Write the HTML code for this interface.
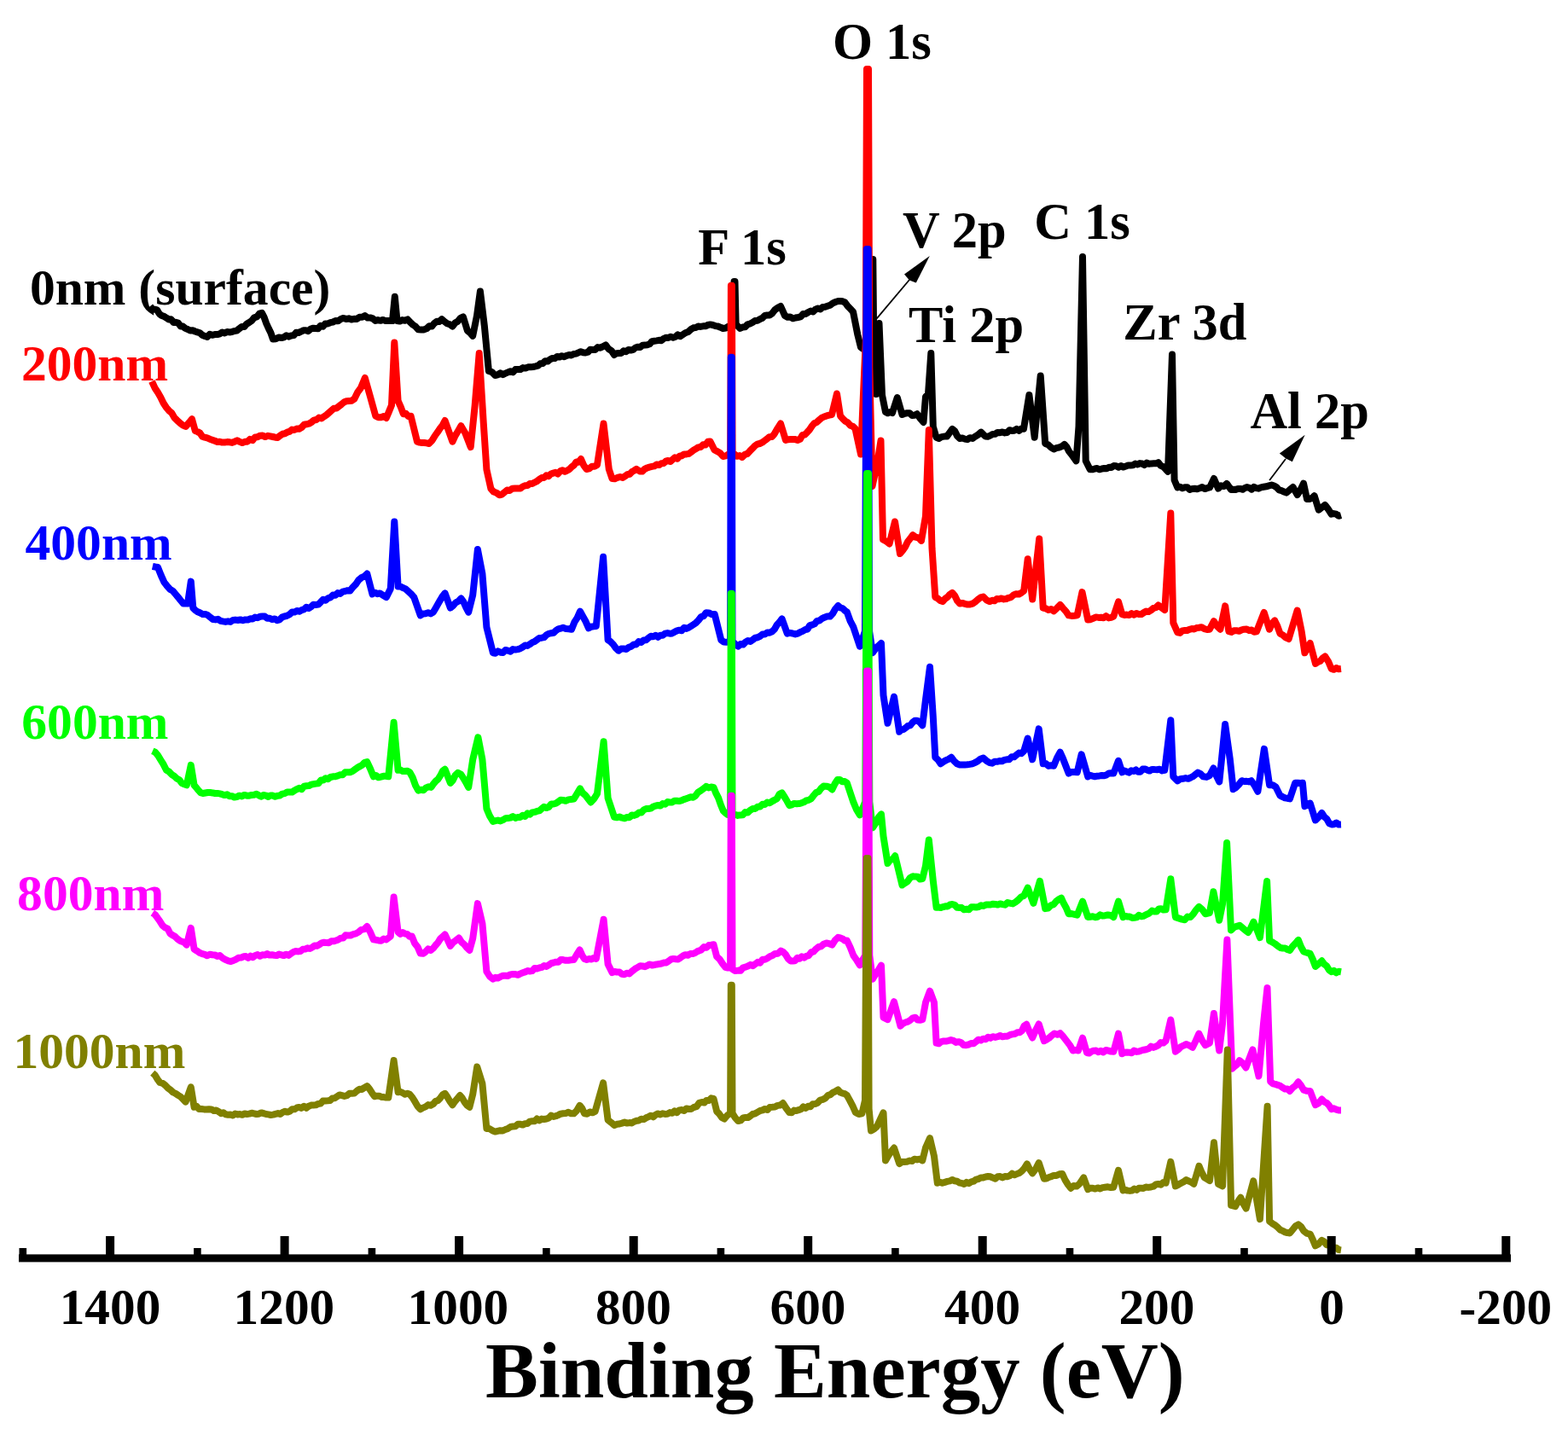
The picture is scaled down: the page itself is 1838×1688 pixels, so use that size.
<!DOCTYPE html>
<html><head><meta charset="utf-8"><title>XPS survey spectra</title>
<style>html,body{margin:0;padding:0;background:#fff;}svg{display:block;}</style>
</head><body>
<svg width="1838" height="1688" viewBox="0 0 1838 1688">
<rect width="1838" height="1688" fill="#ffffff"/>
<polyline fill="none" stroke="#000000" stroke-width="8.0" stroke-linejoin="round" stroke-linecap="butt" points="176.0,359.0 178.7,362.3 181.4,362.7 184.1,363.4 186.9,368.0 189.6,370.0 192.3,370.9 195.0,372.6 197.8,374.6 200.6,374.3 203.3,377.9 206.1,377.8 208.9,378.6 211.7,382.4 214.4,382.6 217.2,384.9 220.0,386.0 222.9,387.5 225.7,387.2 228.6,388.5 231.4,389.4 234.3,390.3 237.1,392.8 240.0,394.0 242.9,394.9 245.9,391.8 248.8,392.8 251.7,392.1 254.7,392.1 257.6,391.3 260.5,389.5 263.3,390.5 266.2,389.0 269.0,389.4 271.9,389.1 274.7,388.1 277.6,387.6 280.5,385.2 283.4,383.0 286.3,383.1 289.2,379.7 292.1,378.0 295.0,376.0 298.0,372.3 301.0,371.4 304.0,367.7 307.0,366.9 309.6,371.9 312.2,379.1 314.8,384.9 317.4,390.1 320.0,397.6 323.3,397.3 326.7,395.5 330.0,396.0 332.9,395.3 335.7,393.2 338.6,394.7 341.4,393.4 344.3,393.1 347.1,389.8 350.0,390.0 352.9,388.7 355.7,387.2 358.6,387.2 361.4,388.1 364.3,385.5 367.1,384.7 370.0,385.0 372.9,385.3 375.7,381.8 378.6,382.8 381.4,379.4 384.3,379.4 387.1,378.2 390.0,377.6 393.2,376.0 396.4,376.2 399.5,374.0 402.7,372.9 405.8,374.0 408.9,373.3 411.9,374.5 415.0,373.8 418.2,374.0 421.4,371.7 424.6,371.8 427.8,370.1 430.9,372.5 433.9,372.4 436.9,373.4 440.0,376.0 443.0,375.1 446.0,375.8 449.0,374.9 452.0,376.1 455.0,376.0 460.0,376.0 462.8,347.8 465.5,376.0 468.6,376.6 471.6,375.1 474.7,375.7 477.8,374.4 480.9,377.8 484.1,380.7 487.2,382.8 490.3,386.3 493.7,386.5 497.0,386.4 500.4,385.0 503.3,382.2 506.2,382.6 509.1,378.9 512.1,376.7 515.0,377.0 517.9,374.1 521.0,376.9 524.1,379.2 527.3,380.3 530.4,382.6 533.5,378.5 536.6,376.7 539.8,372.8 542.9,371.4 547.9,387.6 551.0,390.1 554.2,393.8 559.0,370.0 562.9,341.5 567.9,382.6 572.9,435.0 576.6,436.1 580.4,440.0 583.4,439.3 586.4,437.3 589.5,439.1 592.5,437.7 595.5,436.4 598.4,435.2 601.3,436.4 604.2,433.1 607.1,433.0 610.0,433.0 613.0,431.1 616.0,431.6 619.0,430.3 622.0,430.3 625.0,430.0 627.8,429.4 630.6,428.7 633.4,426.3 636.2,426.0 639.1,423.3 641.9,423.6 644.7,421.3 647.5,420.0 650.3,420.1 653.1,417.9 655.8,418.6 658.6,417.2 661.4,418.2 664.2,416.8 666.9,416.1 669.7,416.4 672.5,415.0 675.3,414.6 678.1,413.4 680.8,412.2 683.6,413.2 686.4,413.5 689.2,412.7 691.9,409.8 694.7,410.0 697.5,410.0 700.6,407.1 703.8,407.7 706.9,406.2 710.0,404.4 713.3,409.0 716.7,411.1 720.0,416.0 722.8,414.2 725.6,413.9 728.3,413.9 731.1,411.3 733.9,412.2 736.7,410.0 739.4,410.5 742.2,409.8 745.0,407.5 747.8,406.7 750.5,407.0 753.2,404.7 756.0,404.6 758.8,404.2 761.5,403.3 764.2,400.2 767.0,399.8 769.8,399.4 772.5,398.8 775.2,399.2 778.0,396.9 780.8,395.8 783.5,395.9 786.2,394.8 789.0,395.7 791.8,394.7 794.5,392.4 797.2,394.3 800.0,392.5 803.3,390.2 806.7,389.0 810.0,386.0 812.8,384.3 815.6,384.0 818.4,382.6 821.2,382.9 824.1,382.3 826.9,382.3 829.7,381.0 832.5,380.4 835.5,381.0 838.5,382.1 841.5,382.5 844.5,383.7 847.5,385.0 850.8,384.5 854.2,382.5 857.5,382.5 859.2,380.0 860.5,330.0 861.5,330.0 862.6,380.0 867.5,385.0 870.4,383.6 873.3,383.3 876.2,380.4 879.2,379.5 882.1,378.0 885.0,376.0 887.9,375.7 890.7,374.2 893.6,372.8 896.4,370.0 899.3,369.5 902.1,369.6 905.0,367.5 908.3,363.3 911.7,360.7 915.0,358.9 920.0,370.0 923.1,371.8 926.2,371.5 929.4,373.3 932.5,372.5 935.5,372.0 938.5,371.4 941.5,368.0 944.5,367.9 947.5,366.0 950.3,364.6 953.1,365.5 955.9,362.7 958.8,361.5 961.6,362.4 964.4,359.9 967.2,359.8 970.0,358.8 973.1,357.7 976.2,355.4 979.4,354.0 982.5,353.0 985.2,353.0 987.8,353.3 990.5,354.5 993.7,358.9 996.8,362.0 1000.0,365.4 1005.4,392.6 1009.0,407.0 1012.5,409.6 1016.0,412.0 1020.0,400.0 1021.8,304.0 1023.3,304.0 1024.6,440.0 1027.0,462.0 1030.5,379.0 1034.0,463.0 1038.0,483.0 1040.7,484.3 1043.3,482.9 1046.0,484.0 1051.8,466.0 1057.5,486.0 1060.4,484.8 1063.3,484.3 1066.2,484.2 1069.2,487.0 1072.1,486.8 1075.0,485.2 1078.8,490.6 1082.5,495.0 1085.0,465.0 1088.0,462.0 1091.3,414.0 1093.8,500.0 1097.5,512.7 1100.6,513.9 1103.8,512.1 1106.9,511.6 1110.0,511.5 1113.2,507.2 1116.3,502.9 1119.2,505.3 1122.1,511.1 1125.0,514.0 1128.0,513.4 1131.0,514.6 1134.0,515.2 1137.0,513.2 1140.0,514.0 1143.3,511.6 1146.7,509.5 1150.0,506.6 1155.0,511.5 1157.9,511.7 1160.7,510.6 1163.6,508.9 1166.4,508.8 1169.3,506.9 1172.1,507.2 1175.0,506.5 1177.8,507.4 1180.6,507.0 1183.3,504.2 1186.1,504.9 1188.9,504.7 1191.7,502.9 1194.4,504.9 1197.2,502.4 1200.0,502.7 1206.4,463.0 1212.7,512.7 1219.7,440.4 1225.2,520.0 1228.5,521.2 1231.9,524.4 1235.2,526.5 1238.3,525.1 1241.5,524.5 1244.6,523.3 1247.7,520.9 1250.5,524.2 1253.2,529.3 1256.0,532.7 1258.7,536.5 1261.5,540.3 1264.5,500.0 1269.0,301.0 1272.7,540.3 1277.7,550.3 1280.5,550.3 1283.3,549.5 1286.1,549.0 1288.8,550.3 1291.6,549.5 1294.4,549.0 1297.2,549.3 1300.0,547.8 1302.8,547.9 1305.6,546.0 1308.4,546.2 1311.2,547.7 1314.1,546.1 1316.9,547.6 1319.7,546.6 1322.5,545.4 1325.3,545.5 1328.0,545.2 1330.7,543.6 1333.4,544.5 1336.1,543.1 1338.8,543.5 1341.5,545.1 1344.3,542.5 1347.0,543.8 1349.7,543.4 1352.4,543.3 1355.1,543.3 1357.8,542.1 1360.6,545.9 1363.4,547.0 1366.2,549.7 1369.0,552.8 1374.0,415.4 1376.6,562.8 1380.3,571.5 1383.2,570.7 1386.0,572.3 1388.9,571.2 1391.8,571.3 1394.7,573.9 1397.5,573.0 1400.4,572.8 1403.3,573.3 1406.3,572.3 1409.2,571.0 1412.1,573.1 1415.1,572.1 1418.0,571.4 1423.0,561.0 1428.0,572.6 1431.3,569.3 1434.7,570.0 1438.0,566.9 1443.0,574.0 1445.7,573.7 1448.4,573.9 1451.1,573.0 1453.8,572.9 1456.5,573.8 1459.2,572.0 1461.8,571.1 1464.5,571.8 1467.2,573.7 1469.9,570.9 1472.6,572.1 1475.3,572.7 1478.0,571.4 1481.2,570.8 1484.3,570.3 1487.4,569.4 1490.6,568.5 1493.5,569.5 1496.4,571.2 1499.3,574.4 1502.2,575.2 1505.1,576.5 1508.0,577.6 1511.8,574.2 1515.6,571.1 1520.7,580.0 1524.3,574.5 1528.0,566.6 1532.0,585.0 1534.9,584.9 1537.8,583.9 1540.7,581.2 1545.7,597.7 1549.5,594.9 1553.2,591.9 1557.0,597.0 1560.7,602.7 1563.5,602.1 1566.3,602.7 1569.2,604.8 1572.0,604.0"/>
<polyline fill="none" stroke="#ff0000" stroke-width="8.0" stroke-linejoin="round" stroke-linecap="butt" points="178.0,447.0 181.5,454.7 185.0,460.0 188.3,465.7 191.7,472.8 195.0,477.7 198.1,481.4 201.2,484.1 204.4,489.6 207.5,492.7 210.9,495.8 214.2,498.4 217.6,500.0 222.0,495.0 225.0,491.2 228.8,505.0 231.6,506.1 234.4,507.6 237.2,511.8 240.0,512.7 242.9,513.4 245.9,514.7 248.8,515.7 251.7,516.8 254.7,517.9 257.6,517.7 260.5,518.6 263.4,518.5 266.3,518.1 269.2,518.3 272.1,518.9 275.0,517.7 278.0,516.3 281.0,517.8 284.0,519.1 287.0,517.8 290.0,517.7 293.0,514.9 296.0,516.2 299.0,512.4 302.0,512.2 305.0,510.7 307.9,510.6 310.9,512.1 313.9,510.8 316.8,511.4 319.8,512.0 322.7,512.7 325.5,512.9 328.3,510.6 331.1,508.8 333.9,508.3 336.6,506.7 339.4,505.9 342.2,503.6 345.0,504.0 347.9,502.6 350.7,502.7 353.6,501.0 356.4,497.8 359.3,497.3 362.1,496.7 365.0,495.0 367.9,492.7 370.9,492.0 373.9,489.6 376.8,490.4 379.8,488.3 382.7,486.4 385.6,483.9 388.5,481.3 391.4,478.7 394.4,478.5 397.3,476.3 400.2,474.0 403.2,471.5 406.2,470.2 409.3,470.1 412.3,469.7 415.3,467.7 419.1,459.9 422.8,455.0 427.8,443.0 434.0,465.0 440.3,487.7 443.4,489.2 446.6,489.2 449.7,488.0 452.8,490.0 455.9,482.6 459.0,475.0 462.3,401.6 466.6,470.0 469.7,476.9 472.8,485.2 475.7,484.8 478.7,488.1 481.6,487.7 489.0,517.7 491.8,518.6 494.6,519.0 497.3,519.0 500.1,519.4 502.9,520.0 506.6,516.2 510.4,510.0 513.2,506.2 516.0,501.9 518.8,498.4 521.6,493.0 530.4,517.7 533.7,510.6 537.1,505.0 540.4,499.3 545.4,507.7 551.7,524.0 556.7,475.0 561.7,414.0 566.7,495.0 570.4,550.3 575.4,572.8 578.7,576.6 582.1,577.8 585.4,580.3 588.4,579.6 591.4,577.0 594.4,574.6 597.4,574.9 600.4,572.8 603.6,572.6 606.8,572.6 610.0,572.5 612.8,570.4 615.6,569.3 618.3,569.1 621.1,567.0 623.9,566.9 626.7,565.5 629.4,564.1 632.2,561.8 635.0,560.0 637.7,559.9 640.4,557.3 643.1,558.2 645.8,555.5 648.5,554.6 651.2,553.8 654.0,555.5 656.7,552.3 659.4,551.2 662.1,552.8 664.8,551.6 667.5,550.0 670.2,547.2 672.9,545.2 675.6,541.4 678.3,541.8 681.0,538.0 684.2,545.4 687.5,550.0 690.6,549.4 693.8,546.7 696.9,546.7 700.0,545.0 707.5,496.5 713.8,550.0 717.5,561.0 720.6,561.2 723.8,559.9 726.9,559.0 730.0,560.0 732.7,558.2 735.3,556.3 738.0,555.8 740.7,553.1 743.3,551.7 746.0,549.9 750.0,552.5 752.8,552.6 755.6,549.8 758.4,548.5 761.2,547.6 764.1,546.9 766.9,546.4 769.7,544.4 772.5,545.0 775.2,543.3 777.9,543.0 780.5,540.7 783.2,539.9 785.9,541.0 788.6,538.6 791.2,536.3 793.9,537.7 796.6,534.7 799.3,534.2 802.0,532.4 804.6,532.4 807.3,531.9 810.0,530.0 812.8,527.8 815.6,526.3 818.4,524.4 821.2,524.1 824.1,521.3 826.9,521.6 829.7,517.8 832.5,517.4 837.5,527.5 840.8,529.1 844.2,531.2 847.5,535.0 850.8,534.4 854.0,532.5 856.2,532.0 856.9,334.8 857.9,334.8 858.6,532.0 861.0,532.5 864.0,534.8 867.0,534.1 870.0,536.0 873.0,532.9 876.0,531.9 879.0,528.7 882.0,525.7 885.0,522.5 887.8,520.7 890.6,520.0 893.4,518.7 896.2,516.6 899.1,514.5 901.9,512.2 904.7,512.1 907.5,509.0 911.2,502.6 915.0,496.5 921.0,516.0 923.8,515.2 926.6,515.0 929.4,514.9 932.2,515.1 935.0,516.0 937.8,514.9 940.6,510.0 943.3,509.6 946.1,506.8 948.9,503.7 951.7,499.5 954.4,496.2 957.2,495.1 960.0,492.5 963.0,489.9 966.0,488.5 969.0,487.4 972.0,486.6 975.0,486.0 981.0,461.5 985.0,487.5 987.9,490.8 990.8,493.7 993.8,495.3 996.7,498.7 999.6,499.7 1002.5,502.5 1009.0,532.5 1011.5,473.0 1014.8,400.0 1016.0,81.0 1018.0,81.0 1019.3,430.0 1022.5,570.0 1028.0,545.0 1032.5,516.5 1035.0,632.5 1038.8,634.5 1042.5,637.5 1049.0,611.5 1055.0,649.0 1058.0,645.4 1061.0,641.2 1064.0,635.0 1067.0,631.3 1070.0,627.2 1073.3,629.7 1076.7,630.5 1080.0,633.8 1085.0,605.0 1088.8,504.0 1092.5,642.6 1096.3,700.1 1099.2,701.4 1102.1,704.0 1105.0,705.1 1107.8,701.9 1110.7,699.9 1113.5,696.7 1116.3,694.8 1119.2,698.3 1122.2,704.4 1125.1,707.6 1128.1,706.9 1131.1,707.8 1134.1,708.6 1137.1,708.4 1140.1,707.6 1143.2,705.5 1146.3,702.8 1149.5,700.4 1152.6,699.5 1156.3,703.3 1160.1,705.1 1162.9,703.8 1165.7,704.3 1168.4,702.1 1171.2,702.3 1174.0,701.4 1176.8,702.4 1179.5,702.0 1182.3,700.8 1185.1,700.1 1188.1,697.4 1191.1,696.2 1194.2,696.6 1197.2,695.0 1200.2,692.6 1204.7,655.3 1210.2,702.6 1218.2,631.5 1222.7,712.6 1225.8,713.2 1229.0,715.0 1232.1,714.0 1235.2,716.4 1239.0,712.8 1242.7,708.9 1246.0,712.8 1249.4,716.6 1252.7,721.4 1256.0,721.9 1259.4,721.8 1262.7,721.4 1268.5,694.1 1275.2,726.4 1278.3,726.2 1281.5,724.8 1284.7,723.4 1287.8,723.9 1290.7,723.7 1293.6,724.3 1296.5,722.1 1299.5,724.4 1302.4,723.9 1305.3,722.6 1311.0,705.4 1315.3,720.1 1318.1,720.9 1320.9,720.6 1323.7,721.1 1326.5,719.1 1329.4,720.8 1332.2,718.9 1335.0,719.9 1337.8,720.1 1340.7,718.1 1343.5,716.6 1346.4,717.0 1349.2,715.4 1352.1,712.9 1354.9,712.2 1357.8,709.5 1361.5,712.2 1365.3,715.1 1372.3,601.5 1375.3,730.2 1380.3,741.4 1383.1,741.9 1385.9,739.4 1388.7,739.1 1391.5,739.0 1394.2,737.8 1397.0,737.1 1399.8,737.4 1402.6,736.1 1405.4,735.8 1408.5,735.2 1411.7,737.2 1414.8,738.0 1417.9,737.7 1422.9,728.2 1426.7,734.1 1430.4,737.7 1436.2,710.4 1440.4,740.2 1443.4,741.0 1446.4,739.3 1449.4,739.2 1452.4,739.8 1455.4,738.3 1458.3,737.7 1461.3,737.5 1464.2,739.1 1467.1,738.5 1470.1,740.7 1473.0,740.2 1481.7,717.9 1488.0,737.7 1491.1,731.1 1494.2,727.4 1497.3,733.8 1500.5,742.7 1503.9,744.5 1507.2,747.4 1510.6,749.0 1520.7,715.5 1525.7,740.3 1529.4,765.3 1532.6,759.1 1535.7,754.0 1542.0,777.9 1544.8,775.9 1547.6,775.0 1550.4,771.4 1553.2,769.4 1557.0,775.3 1560.7,784.0 1563.5,784.8 1566.3,783.0 1569.2,784.3 1572.0,784.0"/>
<polyline fill="none" stroke="#0000ff" stroke-width="8.0" stroke-linejoin="round" stroke-linecap="butt" points="178.8,663.8 181.9,664.5 185.0,665.0 188.8,674.5 192.5,682.6 195.8,686.8 199.2,690.7 202.5,692.6 205.6,696.3 208.8,700.1 211.9,704.0 215.0,707.6 220.0,707.6 223.8,681.6 226.3,712.6 229.1,715.5 231.9,717.3 234.8,718.5 237.6,720.1 240.6,719.9 243.6,721.2 246.6,723.7 249.6,726.0 252.6,726.4 255.5,725.8 258.4,727.8 261.4,728.4 264.3,728.9 267.2,728.3 270.1,728.9 273.0,727.0 275.9,726.6 278.9,727.0 281.8,726.4 284.7,727.3 287.6,726.4 290.5,726.6 293.3,725.3 296.2,725.5 299.0,723.6 301.9,724.2 304.7,722.8 307.6,722.6 310.5,722.6 313.3,724.7 316.2,724.8 319.1,726.1 322.0,725.4 324.8,727.3 327.7,726.4 330.6,723.6 333.5,722.5 336.4,721.8 339.4,720.2 342.3,717.6 345.2,717.6 348.0,716.0 350.8,716.7 353.5,715.2 356.3,714.4 359.1,711.8 361.9,713.0 364.6,711.4 367.4,708.7 370.2,708.9 373.1,708.6 375.9,705.8 378.8,702.7 381.6,703.8 384.5,701.3 387.3,700.4 390.2,697.6 393.1,697.7 395.9,695.1 398.8,695.9 401.7,693.6 404.6,693.0 407.4,692.2 410.3,692.6 413.6,688.3 417.0,684.9 420.3,680.1 423.6,677.2 427.0,675.7 430.3,672.6 436.5,696.4 439.4,694.7 442.4,696.2 445.3,695.4 449.1,697.8 452.8,700.1 457.8,690.1 462.3,611.5 466.6,687.6 469.4,687.5 472.2,689.0 475.0,690.1 477.8,692.6 481.6,695.9 485.3,700.1 492.8,721.4 495.8,719.6 498.8,719.3 501.9,718.2 504.9,719.4 507.9,717.6 510.6,713.0 513.4,708.1 516.1,703.3 518.9,698.7 521.6,695.4 527.9,712.6 531.0,710.1 534.1,706.5 537.3,704.7 540.4,701.4 543.3,705.3 546.3,712.1 549.2,717.6 554.2,697.6 559.9,644.0 565.4,672.6 570.4,735.2 577.9,765.2 580.8,765.7 583.7,763.4 586.6,764.7 589.6,765.0 592.5,762.0 595.4,762.7 598.3,763.6 601.2,761.1 604.2,761.6 607.1,761.1 610.0,760.2 612.8,758.5 615.6,756.4 618.3,756.9 621.1,755.2 623.9,753.1 626.7,752.0 629.4,750.0 632.2,747.9 635.0,747.7 637.8,747.1 640.6,744.2 643.3,742.8 646.1,742.2 648.9,741.8 651.7,739.1 654.4,737.4 657.2,736.7 660.0,735.8 663.3,737.0 666.7,737.2 670.0,737.7 673.3,729.4 676.7,724.1 680.0,716.6 683.3,722.7 686.7,728.8 690.0,736.4 692.9,734.7 695.9,734.2 698.8,733.9 707.1,652.8 712.6,750.2 715.7,752.2 718.9,755.5 722.0,759.9 725.1,762.7 728.1,760.5 731.1,760.4 734.1,761.0 737.1,758.8 740.1,757.7 743.0,755.4 745.8,755.4 748.7,752.0 751.6,753.0 754.5,750.4 757.3,750.2 760.2,747.7 763.0,745.8 765.8,746.2 768.5,744.8 771.3,746.8 774.1,744.7 776.9,744.7 779.6,742.6 782.4,742.1 785.2,742.7 788.0,742.4 790.8,740.8 793.5,739.4 796.3,738.7 799.1,739.3 801.9,735.8 804.6,736.9 807.4,735.6 810.2,733.9 813.1,732.0 816.0,729.9 819.0,726.8 821.9,723.0 824.8,722.1 827.7,718.2 831.0,718.4 834.4,720.2 837.7,720.1 845.3,750.2 848.4,752.5 851.5,752.7 856.1,752.0 856.8,418.8 857.8,418.8 858.5,752.0 862.0,755.0 865.3,757.7 868.2,754.9 871.0,755.6 873.9,752.6 876.7,751.0 879.6,751.9 882.4,750.0 885.3,747.7 888.1,747.2 890.9,745.8 893.7,743.5 896.5,743.5 899.4,741.4 902.2,741.7 905.0,740.4 907.8,737.7 910.7,732.5 913.7,729.3 916.6,725.4 922.8,742.7 925.9,741.9 929.0,742.5 932.2,743.4 935.3,742.7 938.1,741.0 940.9,739.9 943.7,738.2 946.5,737.5 949.2,733.2 952.0,732.5 954.8,731.4 957.6,727.9 960.4,727.6 963.5,725.2 966.6,723.7 969.8,722.4 972.9,722.6 976.1,719.3 979.2,713.8 982.4,710.1 985.0,712.3 987.6,713.0 990.3,715.7 992.9,717.6 996.6,727.9 1000.4,735.2 1007.9,757.7 1014.0,740.0 1015.8,292.0 1017.8,292.0 1019.1,740.0 1022.9,765.2 1026.3,760.5 1029.6,757.1 1033.0,754.0 1035.5,815.2 1040.5,847.8 1048.0,816.7 1054.2,857.8 1056.3,855.3 1059.0,855.2 1061.6,853.2 1064.3,850.9 1067.0,850.4 1069.7,846.9 1072.3,844.7 1075.0,844.7 1078.2,846.7 1081.3,850.3 1085.0,820.2 1090.0,781.7 1093.8,840.3 1096.3,887.8 1099.4,890.6 1102.6,895.3 1105.7,893.0 1108.8,891.2 1112.0,889.9 1115.1,887.8 1118.4,892.1 1121.8,895.2 1125.1,896.6 1128.0,896.6 1130.9,896.5 1133.8,896.3 1136.8,895.9 1139.7,895.4 1142.6,894.1 1145.9,892.4 1149.3,889.7 1152.6,888.5 1156.3,891.8 1160.1,894.1 1163.0,894.7 1165.8,892.7 1168.7,892.8 1171.5,892.1 1174.4,892.3 1177.2,890.9 1180.1,890.3 1183.0,890.2 1185.8,887.3 1188.7,887.3 1191.6,884.9 1194.5,882.6 1197.3,883.2 1200.2,880.3 1204.7,865.5 1210.2,890.3 1217.7,854.3 1222.7,895.3 1225.8,894.9 1229.0,897.9 1232.1,897.3 1235.2,897.8 1239.0,888.4 1242.7,881.8 1246.0,889.2 1249.4,898.0 1252.7,906.6 1256.0,905.0 1259.4,905.0 1262.7,905.3 1267.7,884.3 1275.2,910.3 1277.9,909.0 1280.7,909.7 1283.4,910.3 1286.1,909.7 1288.9,909.4 1291.6,909.0 1294.4,909.3 1297.1,908.4 1299.8,906.4 1302.6,906.3 1305.3,906.6 1311.0,891.8 1315.3,905.3 1318.0,903.6 1320.7,904.5 1323.4,905.6 1326.1,903.3 1328.8,903.9 1331.5,902.4 1334.1,904.8 1336.8,904.7 1339.5,901.6 1342.2,901.5 1344.9,902.7 1347.6,903.6 1350.3,901.9 1353.3,902.1 1356.3,902.2 1359.3,901.7 1362.3,903.4 1365.3,902.8 1372.3,844.3 1375.3,910.3 1380.3,915.3 1383.5,913.2 1386.6,912.8 1389.8,912.1 1392.9,912.8 1395.7,911.5 1398.5,910.1 1401.3,907.8 1404.1,905.6 1407.2,907.1 1410.4,910.3 1414.2,910.9 1417.9,909.1 1422.5,900.5 1425.9,909.4 1429.3,916.4 1436.1,849.1 1441.8,890.1 1445.6,925.2 1448.9,923.1 1452.3,919.5 1455.6,915.2 1458.4,916.0 1461.2,915.8 1464.0,916.4 1466.8,915.2 1470.6,920.9 1474.4,927.7 1481.9,877.9 1488.1,920.2 1491.8,920.2 1495.6,922.7 1500.6,932.7 1503.4,934.0 1506.2,935.4 1509.1,935.8 1511.9,936.4 1518.2,917.7 1521.1,917.8 1524.0,918.1 1526.9,917.7 1529.4,945.2 1532.6,942.6 1535.7,941.5 1541.9,961.5 1545.7,957.9 1549.4,953.0 1552.3,957.5 1555.3,960.1 1558.2,965.2 1561.0,966.4 1563.7,966.2 1566.5,964.5 1569.2,966.6 1572.0,966.5"/>
<polyline fill="none" stroke="#00ff00" stroke-width="8.0" stroke-linejoin="round" stroke-linecap="butt" points="178.8,880.3 181.9,881.7 185.0,885.3 188.3,890.8 191.7,896.2 195.0,902.8 198.1,904.5 201.2,907.8 204.4,909.9 207.5,912.8 210.3,914.3 213.2,918.1 216.0,919.3 218.8,920.4 223.8,896.8 227.6,920.4 231.3,924.8 235.1,929.1 237.9,930.0 240.7,929.5 243.5,929.0 246.4,929.1 249.2,929.4 252.0,930.0 254.8,929.9 257.6,930.4 260.5,931.2 263.3,932.1 266.2,931.2 269.0,933.3 271.9,933.2 274.7,934.6 277.6,934.1 280.5,932.7 283.4,933.5 286.4,931.9 289.3,932.7 292.2,932.7 295.1,931.9 297.8,931.8 300.6,930.8 303.3,932.3 306.0,933.6 308.8,932.1 311.5,932.4 314.3,933.9 317.0,932.4 319.7,932.6 322.5,933.8 325.2,932.9 328.1,932.5 330.9,930.6 333.8,930.1 336.6,928.5 339.5,928.6 342.3,928.6 345.2,926.6 348.0,925.2 350.8,923.8 353.6,925.2 356.4,921.8 359.3,921.3 362.1,921.1 364.9,919.7 367.7,919.1 370.5,918.6 373.3,918.2 376.1,914.6 378.9,914.5 381.8,912.2 384.6,913.2 387.4,911.0 390.2,910.3 393.1,910.3 395.9,909.4 398.8,908.2 401.7,908.3 404.6,905.3 407.4,905.2 410.3,905.3 413.2,904.1 416.0,902.0 418.9,899.9 421.7,898.4 424.6,896.8 427.4,893.9 430.3,893.1 434.1,901.3 437.8,910.3 440.7,909.0 443.6,911.3 446.6,910.6 449.5,909.8 452.4,909.8 455.3,910.3 461.6,846.8 466.6,902.8 469.3,902.5 472.1,904.1 474.8,904.0 477.6,903.8 480.3,905.3 483.6,911.2 487.0,920.6 490.3,926.6 493.3,925.8 496.3,926.3 499.4,923.4 502.4,922.3 505.4,922.9 508.1,918.8 510.8,915.6 513.5,913.4 516.2,909.2 518.9,903.8 521.6,901.8 527.9,917.9 530.8,914.8 533.8,908.6 536.7,905.9 540.4,907.8 543.3,912.4 546.3,917.3 549.2,922.9 554.2,890.3 560.4,864.3 565.4,890.3 570.4,947.9 574.1,956.7 577.9,962.9 580.8,962.1 583.7,961.6 586.6,962.4 589.6,961.1 592.5,959.3 595.4,959.1 598.3,958.6 601.2,957.1 604.2,958.9 607.1,958.0 610.0,957.9 612.8,955.8 615.6,957.0 618.3,953.3 621.1,954.7 623.9,952.4 626.7,951.9 629.4,950.9 632.2,950.4 635.0,947.9 637.8,945.8 640.6,947.1 643.3,946.0 646.1,942.4 648.9,942.5 651.7,941.7 654.4,939.9 657.2,937.7 660.0,937.9 663.1,938.8 666.3,937.4 669.5,937.0 672.6,936.6 676.3,930.6 680.0,924.4 683.1,929.7 686.3,932.3 689.5,936.5 692.6,940.4 696.3,936.3 700.0,930.4 707.6,869.3 712.6,935.4 720.1,957.9 723.1,958.3 726.1,957.5 729.1,958.7 732.1,959.3 735.1,957.9 737.9,958.2 740.7,955.5 743.5,955.9 746.3,954.8 749.0,952.4 751.8,952.5 754.6,949.4 757.4,948.1 760.2,947.9 763.0,947.6 765.8,945.5 768.5,944.7 771.3,944.0 774.1,944.6 776.9,942.0 779.6,942.7 782.4,940.1 785.2,940.4 787.9,940.5 790.7,938.7 793.4,938.7 796.1,939.1 798.8,938.4 801.6,937.1 804.3,936.2 807.0,935.3 809.7,934.3 812.5,934.7 815.2,932.9 818.3,928.7 821.5,926.8 824.6,924.6 827.7,921.9 830.6,923.4 833.6,922.6 836.5,922.9 839.3,929.9 842.1,935.4 845.0,943.8 847.8,950.4 850.4,953.1 853.0,955.0 856.1,955.0 856.8,695.8 857.8,695.8 858.5,955.0 862.0,955.0 864.9,955.9 867.8,955.4 870.7,955.2 873.6,952.1 876.5,952.5 879.5,949.7 882.4,948.1 885.3,947.9 888.1,945.8 890.9,945.5 893.7,942.8 896.5,943.0 899.4,940.5 902.2,941.3 905.0,939.4 907.8,937.9 910.7,936.2 913.7,930.8 916.6,929.4 919.5,934.0 922.4,938.8 925.3,944.1 928.1,943.3 930.9,941.9 933.8,942.3 936.6,942.1 939.4,941.4 942.2,940.3 945.1,938.5 947.9,937.9 950.8,936.2 953.7,932.5 956.6,929.1 959.6,928.0 962.5,924.1 965.4,921.6 968.7,921.7 972.1,922.7 975.4,925.4 978.5,919.0 981.6,914.1 984.4,913.9 987.2,916.2 990.1,916.0 992.9,917.9 1000.4,940.4 1004.1,949.2 1007.9,955.4 1011.1,947.5 1014.3,940.0 1016.0,555.0 1018.0,555.0 1019.3,940.0 1022.9,970.4 1026.3,965.3 1029.6,958.4 1033.0,954.4 1035.5,980.4 1040.5,1012.0 1043.4,1008.3 1046.3,1007.3 1049.2,1003.3 1057.5,1037.5 1060.6,1035.3 1063.8,1033.3 1066.9,1028.9 1070.0,1027.2 1072.8,1027.6 1075.7,1027.8 1078.5,1030.6 1081.3,1030.0 1085.0,1015.0 1088.8,984.4 1093.8,1032.5 1097.6,1063.8 1100.3,1063.5 1102.9,1064.1 1105.6,1063.1 1108.3,1062.3 1111.0,1062.4 1113.6,1060.4 1116.3,1060.0 1119.1,1060.8 1121.8,1063.8 1124.6,1064.0 1127.3,1064.1 1130.1,1066.3 1133.0,1065.8 1135.8,1066.3 1138.7,1063.2 1141.5,1063.2 1144.4,1063.5 1147.2,1063.0 1150.1,1061.3 1152.9,1061.9 1155.7,1060.6 1158.4,1060.6 1161.2,1060.5 1164.0,1059.7 1166.8,1059.9 1169.5,1060.6 1172.3,1059.4 1175.1,1060.1 1178.1,1060.7 1181.1,1058.0 1184.2,1058.9 1187.2,1059.4 1190.2,1057.6 1193.5,1055.0 1196.9,1051.4 1200.2,1050.1 1204.7,1040.7 1211.4,1058.8 1218.9,1032.8 1225.2,1065.1 1228.5,1064.6 1231.9,1061.2 1235.2,1060.1 1238.1,1056.5 1241.1,1054.3 1244.0,1052.6 1246.9,1059.1 1249.8,1064.2 1252.7,1071.3 1256.0,1071.0 1259.4,1071.9 1262.7,1072.6 1269.0,1056.6 1275.2,1075.1 1278.1,1074.7 1280.9,1074.3 1283.8,1075.2 1286.7,1074.7 1289.6,1072.4 1292.4,1073.6 1295.3,1073.2 1298.6,1072.5 1302.0,1073.0 1305.3,1075.1 1311.0,1056.6 1316.5,1075.1 1319.1,1073.9 1321.8,1074.5 1324.4,1074.6 1327.1,1075.9 1329.7,1075.8 1332.4,1075.4 1335.0,1072.8 1337.7,1074.2 1340.3,1073.8 1343.6,1072.2 1347.0,1070.6 1350.3,1067.6 1353.0,1068.6 1355.7,1068.6 1358.4,1065.5 1361.2,1065.2 1363.9,1066.6 1366.6,1066.3 1372.3,1030.3 1377.9,1075.1 1381.7,1076.4 1385.4,1077.6 1388.7,1078.2 1392.1,1074.6 1395.4,1075.1 1398.7,1071.6 1402.1,1066.6 1405.4,1062.9 1409.2,1066.0 1412.9,1071.3 1417.9,1070.1 1422.4,1045.3 1429.2,1078.8 1433.0,1060.0 1438.1,988.0 1443.0,1090.4 1446.4,1087.1 1449.7,1085.8 1453.1,1084.8 1456.4,1087.6 1459.8,1090.5 1463.1,1092.9 1466.2,1087.7 1469.4,1080.6 1473.2,1089.3 1476.9,1099.1 1485.1,1033.0 1488.1,1102.9 1491.4,1104.3 1494.8,1106.5 1498.1,1109.1 1500.9,1111.0 1503.6,1111.5 1506.4,1111.4 1509.1,1113.1 1511.9,1114.1 1515.2,1109.3 1518.6,1105.8 1521.9,1101.9 1525.1,1110.0 1528.2,1115.4 1532.0,1116.7 1535.7,1117.9 1538.8,1124.5 1541.9,1132.9 1545.7,1129.8 1549.4,1126.3 1552.2,1130.1 1555.1,1132.4 1557.9,1137.0 1560.7,1139.2 1563.5,1137.8 1566.3,1140.3 1569.2,1138.7 1572.0,1139.2"/>
<polyline fill="none" stroke="#ff00ff" stroke-width="8.0" stroke-linejoin="round" stroke-linecap="butt" points="178.8,1070.1 181.7,1072.0 184.6,1075.9 187.5,1080.1 190.5,1084.9 193.5,1087.3 196.5,1088.7 199.5,1094.4 202.5,1096.4 205.2,1097.8 207.9,1100.5 210.7,1102.7 213.4,1103.7 216.1,1104.9 218.8,1107.6 223.8,1087.8 227.6,1112.6 230.7,1114.6 233.8,1116.8 237.0,1118.1 240.1,1118.9 243.0,1120.3 245.9,1118.8 248.9,1119.3 251.8,1119.4 254.7,1120.9 257.6,1120.1 260.9,1123.0 264.3,1124.9 267.6,1126.4 270.6,1127.0 273.6,1126.0 276.6,1124.6 279.6,1122.8 282.6,1122.6 285.4,1121.3 288.2,1121.1 290.9,1122.8 293.7,1120.6 296.5,1122.2 299.3,1120.0 302.0,1119.1 304.8,1120.8 307.6,1119.2 310.4,1119.6 313.2,1118.1 316.0,1119.6 318.8,1119.2 321.5,1119.7 324.3,1120.1 327.1,1118.6 329.9,1119.3 332.7,1120.1 335.5,1118.7 338.3,1119.9 341.0,1117.8 343.8,1116.0 346.6,1115.0 349.4,1115.4 352.1,1115.0 354.9,1112.8 357.7,1112.6 360.5,1111.3 363.3,1111.9 366.0,1110.5 368.8,1108.4 371.6,1108.8 374.4,1107.2 377.1,1105.4 379.9,1104.7 382.7,1105.1 385.5,1105.3 388.3,1103.3 391.1,1103.3 393.9,1102.5 396.6,1101.5 399.4,1099.7 402.2,1099.6 405.0,1096.3 407.8,1096.4 410.9,1096.5 414.1,1095.1 417.2,1094.4 420.3,1092.6 423.6,1089.8 427.0,1089.1 430.3,1086.0 434.1,1092.8 437.8,1101.4 440.8,1101.8 443.8,1102.4 446.8,1102.7 449.8,1100.5 452.8,1101.4 457.8,1097.6 461.6,1051.6 466.6,1092.6 469.3,1094.8 472.0,1093.1 474.7,1094.6 477.4,1095.0 480.1,1097.8 482.8,1097.6 486.1,1105.7 489.5,1109.9 492.8,1117.6 495.8,1117.8 498.8,1115.8 501.9,1112.4 504.9,1114.0 507.9,1111.4 510.6,1108.0 513.4,1104.8 516.1,1100.5 518.9,1097.9 521.6,1095.4 524.8,1102.1 527.9,1108.9 531.2,1104.7 534.6,1102.2 537.9,1099.5 541.0,1104.4 544.1,1107.0 547.3,1110.9 550.4,1113.9 554.2,1100.1 559.9,1059.1 565.4,1082.6 570.4,1138.9 574.1,1144.6 577.9,1147.7 580.8,1145.8 583.7,1146.5 586.6,1144.9 589.6,1143.7 592.5,1143.8 595.4,1143.9 598.3,1142.4 601.2,1141.9 604.2,1142.1 607.1,1142.8 610.0,1141.4 612.8,1140.3 615.6,1139.4 618.3,1138.1 621.1,1138.4 623.9,1138.1 626.7,1134.9 629.4,1135.5 632.2,1134.5 635.0,1133.9 637.8,1131.9 640.6,1132.9 643.3,1131.3 646.1,1129.2 648.9,1128.5 651.7,1127.7 654.4,1127.8 657.2,1125.1 660.0,1125.1 663.1,1125.8 666.3,1125.7 669.5,1125.3 672.6,1125.1 676.1,1119.0 679.6,1113.5 682.4,1119.9 685.1,1123.9 687.8,1124.9 690.6,1124.1 693.3,1124.4 696.1,1122.9 698.8,1123.9 707.6,1077.8 712.6,1130.1 717.6,1140.1 720.5,1139.0 723.3,1139.5 726.2,1139.5 729.0,1141.8 731.9,1142.2 734.7,1140.7 737.6,1141.4 740.9,1138.5 744.3,1135.8 747.6,1133.9 750.4,1132.3 753.2,1132.5 756.0,1133.2 758.8,1131.8 761.5,1130.4 764.3,1131.5 767.1,1131.0 769.9,1130.4 772.7,1130.1 775.5,1129.5 778.3,1128.5 781.0,1128.4 783.8,1126.6 786.6,1124.5 789.4,1123.9 792.1,1124.3 794.9,1124.5 797.7,1122.6 800.6,1120.5 803.4,1119.2 806.3,1119.8 809.1,1118.1 812.0,1118.1 814.8,1117.0 817.7,1115.1 821.5,1113.8 825.2,1110.1 828.0,1110.8 830.9,1108.1 833.7,1107.8 836.5,1107.3 840.2,1121.4 843.6,1124.5 846.9,1129.5 850.3,1133.9 853.2,1134.6 856.1,1134.0 856.8,932.8 857.8,932.8 858.5,1136.0 861.9,1138.1 865.3,1137.6 868.2,1137.8 871.0,1134.3 873.9,1133.6 876.7,1132.5 879.6,1130.9 882.4,1132.2 885.3,1130.1 888.2,1127.8 891.0,1128.6 893.9,1124.7 896.7,1124.8 899.6,1123.3 902.4,1121.3 905.3,1120.1 908.6,1117.9 912.0,1117.7 915.3,1114.5 918.1,1116.0 921.0,1119.1 923.8,1123.8 926.6,1126.4 929.3,1126.4 931.9,1126.2 934.6,1122.9 937.2,1123.8 939.9,1121.3 942.6,1122.6 945.2,1120.8 947.9,1120.1 950.8,1116.4 953.7,1115.4 956.6,1112.3 959.6,1110.0 962.5,1109.4 965.4,1106.7 968.7,1105.5 972.1,1106.2 975.4,1107.6 978.9,1102.1 982.4,1098.8 985.0,1099.4 987.6,1100.4 990.3,1102.6 992.9,1102.6 996.6,1110.4 1000.4,1120.1 1004.1,1125.3 1007.9,1131.4 1011.1,1125.4 1014.3,1120.0 1016.0,786.5 1018.0,786.5 1019.3,1120.0 1022.9,1147.7 1026.3,1141.9 1029.6,1137.3 1033.0,1131.6 1035.5,1192.7 1040.5,1195.2 1048.0,1174.2 1055.5,1202.7 1058.4,1199.9 1061.3,1198.5 1064.2,1197.6 1067.1,1195.8 1070.0,1193.3 1072.8,1192.7 1075.7,1195.6 1078.5,1195.8 1081.3,1195.2 1085.0,1175.2 1090.0,1161.7 1095.0,1175.2 1097.6,1222.7 1100.5,1223.3 1103.3,1221.1 1106.2,1220.4 1109.0,1220.6 1111.9,1219.9 1114.7,1219.1 1117.6,1219.9 1120.6,1221.9 1123.6,1221.2 1126.6,1222.1 1129.6,1225.1 1132.6,1225.2 1135.5,1224.5 1138.3,1223.1 1141.2,1223.2 1144.0,1221.1 1146.9,1218.7 1149.7,1219.5 1152.6,1217.7 1155.4,1218.2 1158.2,1215.7 1161.0,1216.9 1163.8,1215.2 1166.7,1215.9 1169.5,1215.2 1172.3,1214.0 1175.1,1215.2 1178.0,1214.8 1180.8,1214.7 1183.7,1213.2 1186.6,1212.4 1189.5,1212.0 1192.3,1210.3 1195.2,1210.2 1197.9,1208.2 1200.5,1202.6 1203.2,1200.8 1206.7,1209.5 1210.2,1216.5 1214.0,1207.8 1217.7,1200.5 1223.9,1220.2 1226.8,1218.7 1229.8,1216.7 1232.7,1214.0 1236.0,1211.6 1239.4,1212.8 1242.7,1211.2 1246.5,1215.3 1250.2,1220.2 1254.0,1225.1 1257.7,1231.5 1260.8,1230.9 1264.0,1231.5 1269.0,1216.7 1274.0,1234.0 1276.7,1234.6 1279.4,1232.5 1282.2,1231.7 1284.9,1231.6 1287.6,1233.2 1290.3,1231.8 1293.3,1233.5 1296.3,1230.9 1299.3,1231.6 1302.3,1232.6 1305.3,1232.7 1311.0,1211.7 1315.3,1235.2 1318.1,1233.7 1320.9,1233.5 1323.7,1233.7 1326.5,1234.3 1329.4,1231.5 1332.2,1232.9 1335.0,1232.5 1337.8,1231.5 1340.7,1230.7 1343.5,1230.2 1346.4,1229.3 1349.2,1226.6 1352.1,1227.9 1354.9,1226.8 1357.8,1225.2 1360.7,1222.1 1363.7,1222.5 1366.6,1220.2 1372.3,1195.5 1377.9,1232.7 1381.0,1230.3 1384.2,1227.1 1387.3,1225.7 1390.4,1224.0 1394.2,1225.6 1397.9,1227.7 1401.7,1220.0 1405.4,1211.7 1409.2,1219.7 1412.9,1225.2 1417.9,1222.7 1422.9,1188.0 1429.2,1231.5 1433.0,1200.0 1438.4,1101.6 1444.2,1252.8 1447.1,1250.1 1450.0,1247.8 1452.9,1243.1 1456.7,1246.3 1460.4,1251.5 1468.4,1230.5 1475.5,1261.5 1481.0,1200.0 1485.5,1157.9 1489.2,1267.8 1492.0,1270.3 1494.8,1270.9 1497.7,1271.9 1500.5,1272.8 1503.3,1274.8 1506.2,1276.5 1509.1,1276.5 1511.9,1278.9 1515.2,1275.1 1518.6,1272.6 1521.9,1268.3 1525.1,1272.5 1528.2,1277.7 1532.0,1278.8 1535.7,1278.9 1541.9,1295.2 1545.7,1293.2 1549.4,1288.6 1552.2,1291.6 1555.1,1292.9 1557.9,1295.8 1560.7,1300.2 1563.5,1299.3 1566.3,1300.6 1569.2,1301.5 1572.0,1301.5"/>
<polyline fill="none" stroke="#808000" stroke-width="8.0" stroke-linejoin="round" stroke-linecap="butt" points="178.8,1257.8 181.7,1260.3 184.6,1265.1 187.5,1269.0 190.6,1269.8 193.8,1272.2 196.9,1275.5 200.0,1277.8 202.9,1280.5 205.9,1281.9 208.8,1283.9 211.7,1285.7 214.7,1288.6 217.6,1291.6 223.8,1274.3 227.6,1297.8 230.5,1296.8 233.4,1300.1 236.3,1300.0 239.3,1300.4 242.2,1300.6 245.1,1300.3 247.9,1300.4 250.7,1302.1 253.4,1301.5 256.2,1303.0 259.0,1305.2 261.8,1304.2 264.5,1306.3 267.3,1306.8 270.1,1306.6 272.9,1307.6 275.7,1305.6 278.4,1306.4 281.2,1306.1 284.0,1306.8 286.8,1305.5 289.5,1306.0 292.3,1305.6 295.1,1304.7 297.9,1305.3 300.7,1306.0 303.5,1305.7 306.3,1304.4 309.0,1305.2 311.8,1306.0 314.6,1306.4 317.4,1307.0 320.2,1306.6 323.0,1305.8 325.8,1305.1 328.5,1306.0 331.3,1303.9 334.1,1302.8 336.9,1303.6 339.6,1302.7 342.4,1300.2 345.2,1300.3 348.0,1298.5 350.8,1297.9 353.5,1298.9 356.3,1296.8 359.1,1298.9 361.9,1296.7 364.6,1295.6 367.4,1295.4 370.2,1295.3 373.0,1293.9 375.8,1293.6 378.5,1290.6 381.3,1290.5 384.1,1290.3 386.9,1290.0 389.6,1287.5 392.4,1287.3 395.2,1285.3 398.1,1283.4 400.9,1284.1 403.8,1285.0 406.7,1284.2 409.6,1281.7 412.4,1281.8 415.3,1281.6 418.3,1278.9 421.3,1276.8 424.3,1276.9 427.3,1274.9 430.3,1273.1 433.2,1276.6 436.1,1281.2 439.0,1285.3 441.7,1284.7 444.4,1284.7 447.1,1285.9 449.9,1286.1 452.6,1286.6 455.3,1286.6 461.6,1243.0 466.6,1280.3 469.3,1279.8 472.1,1281.1 474.8,1282.7 477.6,1281.8 480.3,1282.8 483.4,1286.5 486.6,1291.7 489.7,1297.0 492.8,1300.3 495.8,1298.6 498.8,1297.4 501.9,1295.1 504.9,1295.8 507.9,1294.1 510.6,1290.8 513.4,1290.1 516.1,1287.2 518.9,1283.3 521.6,1281.8 524.5,1286.1 527.5,1291.2 530.4,1295.3 533.3,1291.1 536.3,1287.5 539.2,1284.0 542.0,1287.4 544.8,1292.2 547.6,1295.8 550.4,1297.8 554.2,1282.8 559.2,1250.5 565.4,1270.3 570.4,1322.9 573.7,1323.1 577.1,1325.2 580.4,1326.6 583.4,1325.9 586.4,1325.2 589.4,1325.4 592.4,1324.0 595.4,1322.9 598.3,1321.0 601.2,1320.4 604.2,1320.3 607.1,1317.8 610.0,1317.8 612.8,1318.6 615.6,1317.2 618.3,1317.1 621.1,1314.6 623.9,1314.2 626.7,1314.2 629.4,1311.5 632.2,1313.5 635.0,1311.6 637.8,1312.0 640.6,1311.5 643.3,1310.5 646.1,1307.6 648.9,1309.0 651.7,1308.2 654.4,1307.1 657.2,1305.7 660.0,1305.3 663.1,1305.1 666.3,1303.8 669.5,1305.3 672.6,1305.3 676.1,1301.8 679.6,1295.9 682.4,1299.3 685.1,1305.3 688.2,1305.7 691.4,1303.4 694.5,1304.3 697.6,1302.8 707.1,1269.3 712.6,1312.8 716.4,1315.8 720.1,1319.1 723.1,1317.8 726.1,1317.5 729.1,1316.6 732.1,1315.6 735.1,1316.6 737.9,1316.1 740.7,1316.4 743.5,1314.7 746.3,1313.7 749.0,1313.4 751.8,1311.7 754.6,1312.1 757.4,1310.3 760.2,1309.1 763.0,1307.7 765.8,1309.3 768.5,1306.8 771.3,1305.4 774.1,1306.4 776.9,1305.3 779.6,1305.9 782.4,1305.7 785.2,1304.1 788.0,1304.8 790.8,1302.3 793.5,1304.2 796.3,1301.4 799.1,1301.1 801.9,1302.0 804.6,1299.5 807.4,1300.0 810.2,1300.0 813.3,1298.0 816.5,1297.2 819.6,1292.9 822.7,1292.0 825.5,1292.6 828.2,1289.9 831.0,1290.0 833.7,1287.3 836.5,1287.9 840.2,1302.8 843.1,1305.7 846.1,1310.0 849.0,1311.6 852.5,1307.5 856.1,1305.0 856.8,1154.8 857.8,1154.8 858.5,1305.0 861.9,1310.3 865.3,1314.1 868.2,1313.4 871.0,1310.4 873.9,1309.9 876.7,1310.1 879.6,1308.1 882.4,1306.0 885.3,1305.3 888.2,1303.6 891.0,1302.0 893.9,1301.4 896.7,1299.9 899.6,1301.0 902.4,1298.0 905.3,1297.8 908.4,1297.5 911.5,1295.9 914.7,1295.5 917.8,1293.1 921.5,1299.0 925.3,1304.1 928.0,1304.2 930.8,1301.6 933.5,1302.0 936.2,1301.1 939.0,1300.2 941.7,1297.4 944.5,1299.0 947.2,1296.8 949.9,1297.3 952.7,1294.2 955.4,1294.1 958.4,1292.8 961.4,1289.6 964.4,1288.9 967.4,1287.4 970.4,1284.1 973.4,1283.1 976.4,1280.7 979.4,1279.3 982.4,1277.5 985.0,1280.6 987.6,1281.6 990.3,1282.2 992.9,1284.1 996.2,1290.1 999.6,1296.7 1002.9,1304.1 1006.6,1306.1 1010.4,1305.3 1014.0,1290.0 1015.7,1006.0 1017.5,1006.0 1018.6,1300.0 1021.0,1325.4 1024.5,1323.5 1028.0,1320.4 1031.8,1312.1 1035.5,1304.3 1038.0,1360.4 1041.3,1354.7 1044.7,1349.8 1048.0,1345.6 1054.2,1364.1 1057.2,1362.1 1060.1,1361.9 1063.1,1361.8 1066.1,1360.6 1069.1,1361.0 1072.0,1358.7 1075.0,1359.4 1078.2,1358.7 1081.3,1360.4 1085.0,1345.4 1090.0,1334.2 1095.0,1355.4 1098.8,1386.7 1101.7,1385.7 1104.6,1386.8 1107.5,1385.9 1110.5,1384.9 1113.4,1384.3 1116.3,1383.0 1119.1,1384.3 1121.8,1384.7 1124.6,1386.5 1127.3,1386.9 1130.1,1387.9 1132.9,1385.9 1135.7,1387.2 1138.5,1385.4 1141.3,1384.7 1144.2,1382.6 1147.0,1382.0 1149.8,1380.4 1152.6,1380.4 1155.4,1379.5 1158.2,1379.0 1161.0,1379.3 1163.8,1380.6 1166.7,1381.7 1169.5,1379.3 1172.3,1379.1 1175.1,1380.4 1177.9,1379.0 1180.8,1379.2 1183.6,1378.2 1186.4,1375.6 1189.2,1377.2 1192.0,1376.1 1194.9,1375.0 1197.7,1372.9 1200.8,1369.4 1203.9,1364.4 1207.1,1370.7 1210.2,1375.4 1214.0,1370.3 1217.7,1363.1 1223.9,1381.7 1226.7,1381.5 1229.6,1380.0 1232.4,1379.2 1235.2,1377.9 1238.5,1377.9 1241.9,1376.3 1245.2,1376.0 1248.5,1383.1 1251.9,1388.6 1255.2,1392.9 1258.5,1389.9 1261.9,1390.6 1265.2,1387.9 1270.2,1380.4 1275.2,1394.2 1278.1,1392.7 1280.9,1392.7 1283.8,1393.6 1286.7,1392.4 1289.6,1393.4 1292.4,1392.1 1295.3,1391.7 1298.6,1391.3 1302.0,1392.0 1305.3,1391.7 1311.0,1371.9 1316.5,1395.4 1319.1,1394.8 1321.8,1395.6 1324.4,1395.9 1327.1,1395.5 1329.7,1393.6 1332.4,1394.9 1335.0,1392.7 1337.7,1392.8 1340.3,1392.9 1343.2,1391.5 1346.1,1391.9 1349.0,1391.5 1352.0,1390.7 1354.9,1388.5 1357.8,1387.9 1360.7,1388.8 1363.7,1385.9 1366.6,1386.7 1372.3,1361.9 1377.9,1390.4 1381.1,1388.8 1384.2,1387.0 1387.3,1385.4 1390.5,1383.1 1393.4,1384.6 1396.4,1385.7 1399.3,1387.8 1405.5,1366.8 1408.7,1374.5 1411.8,1380.3 1414.9,1382.2 1418.0,1384.1 1423.0,1339.3 1428.0,1387.8 1433.1,1390.3 1438.8,1230.4 1443.1,1412.8 1448.1,1414.1 1451.2,1408.2 1454.3,1403.8 1457.4,1411.1 1460.6,1416.6 1469.3,1384.3 1476.9,1429.1 1485.6,1296.7 1488.1,1431.6 1491.4,1434.2 1494.8,1436.2 1498.1,1439.1 1500.9,1441.8 1503.6,1442.9 1506.4,1444.3 1509.1,1445.1 1511.9,1445.4 1515.2,1441.5 1518.6,1437.3 1521.9,1435.4 1525.1,1437.9 1528.2,1442.9 1532.0,1445.9 1535.7,1446.6 1538.8,1453.0 1541.9,1460.4 1545.7,1458.2 1549.4,1453.8 1552.2,1455.5 1555.1,1459.2 1557.9,1459.4 1560.7,1462.9 1563.5,1462.5 1566.3,1462.7 1569.2,1465.0 1572.0,1465.4"/>
<rect x="22" y="1470.4" width="1749" height="9.0" fill="#000"/>
<rect x="22.5" y="1463" width="8.6" height="8.400000000000091" fill="#000"/>
<rect x="124.1" y="1449" width="10" height="22.40000000000009" fill="#000"/>
<rect x="227.1" y="1463" width="8.6" height="8.400000000000091" fill="#000"/>
<rect x="328.6" y="1449" width="10" height="22.40000000000009" fill="#000"/>
<rect x="431.6" y="1463" width="8.6" height="8.400000000000091" fill="#000"/>
<rect x="533.1" y="1449" width="10" height="22.40000000000009" fill="#000"/>
<rect x="636.1" y="1463" width="8.6" height="8.400000000000091" fill="#000"/>
<rect x="737.7" y="1449" width="10" height="22.40000000000009" fill="#000"/>
<rect x="840.6" y="1463" width="8.6" height="8.400000000000091" fill="#000"/>
<rect x="942.2" y="1449" width="10" height="22.40000000000009" fill="#000"/>
<rect x="1045.1" y="1463" width="8.6" height="8.400000000000091" fill="#000"/>
<rect x="1146.7" y="1449" width="10" height="22.40000000000009" fill="#000"/>
<rect x="1249.7" y="1463" width="8.6" height="8.400000000000091" fill="#000"/>
<rect x="1351.2" y="1449" width="10" height="22.40000000000009" fill="#000"/>
<rect x="1454.2" y="1463" width="8.6" height="8.400000000000091" fill="#000"/>
<rect x="1555.7" y="1449" width="10" height="22.40000000000009" fill="#000"/>
<rect x="1658.7" y="1463" width="8.6" height="8.400000000000091" fill="#000"/>
<rect x="1760.3" y="1449" width="10" height="22.40000000000009" fill="#000"/>
<line x1="1027.5" y1="373.7" x2="1066" y2="328" stroke="#000" stroke-width="1.8"/>
<polygon points="1089.8,300 1060,321.5 1066,328.5 1073.8,331.6" fill="#000"/>
<line x1="1488.1" y1="563" x2="1507" y2="538" stroke="#000" stroke-width="1.8"/>
<polygon points="1529.7,509.7 1499.9,531.6 1507.3,537.5 1514.8,541.2" fill="#000"/>
<text x="34.9" y="356.7" font-size="59.6" font-family="'Liberation Serif', 'Times New Roman', serif" font-weight="bold" fill="#000000" text-anchor="start">0nm (surface)</text>
<text x="24.9" y="445.9" font-size="59.6" font-family="'Liberation Serif', 'Times New Roman', serif" font-weight="bold" fill="#ff0000" text-anchor="start">200nm</text>
<text x="29.5" y="655.6" font-size="59.6" font-family="'Liberation Serif', 'Times New Roman', serif" font-weight="bold" fill="#0000ff" text-anchor="start">400nm</text>
<text x="25.3" y="865.6" font-size="59.6" font-family="'Liberation Serif', 'Times New Roman', serif" font-weight="bold" fill="#00ff00" text-anchor="start">600nm</text>
<text x="20.1" y="1067.1" font-size="59.6" font-family="'Liberation Serif', 'Times New Roman', serif" font-weight="bold" fill="#ff00ff" text-anchor="start">800nm</text>
<text x="15.4" y="1252.2" font-size="59.6" font-family="'Liberation Serif', 'Times New Roman', serif" font-weight="bold" fill="#808000" text-anchor="start">1000nm</text>
<text x="818.2" y="309.8" font-size="60.5" font-family="'Liberation Serif', 'Times New Roman', serif" font-weight="bold" fill="#000000" text-anchor="start">F 1s</text>
<text x="975.9" y="68.6" font-size="60.5" font-family="'Liberation Serif', 'Times New Roman', serif" font-weight="bold" fill="#000000" text-anchor="start">O 1s</text>
<text x="1058.0" y="290.3" font-size="60.5" font-family="'Liberation Serif', 'Times New Roman', serif" font-weight="bold" fill="#000000" text-anchor="start">V 2p</text>
<text x="1212.3" y="280.4" font-size="60.5" font-family="'Liberation Serif', 'Times New Roman', serif" font-weight="bold" fill="#000000" text-anchor="start">C 1s</text>
<text x="1065.0" y="401.3" font-size="60.5" font-family="'Liberation Serif', 'Times New Roman', serif" font-weight="bold" fill="#000000" text-anchor="start">Ti 2p</text>
<text x="1316.3" y="398.3" font-size="60.5" font-family="'Liberation Serif', 'Times New Roman', serif" font-weight="bold" fill="#000000" text-anchor="start">Zr 3d</text>
<text x="1465.4" y="502.0" font-size="60.5" font-family="'Liberation Serif', 'Times New Roman', serif" font-weight="bold" fill="#000000" text-anchor="start">Al 2p</text>
<text x="569.0" y="1637.6" font-size="92.8" font-family="'Liberation Serif', 'Times New Roman', serif" font-weight="bold" fill="#000000" text-anchor="start">Binding Energy (eV)</text>
<text x="69.7" y="1551.6" font-size="59.3" font-family="'Liberation Serif', 'Times New Roman', serif" font-weight="bold" fill="#000000" text-anchor="start">1400</text>
<text x="273.6" y="1551.6" font-size="59.3" font-family="'Liberation Serif', 'Times New Roman', serif" font-weight="bold" fill="#000000" text-anchor="start">1200</text>
<text x="477.6" y="1551.6" font-size="59.3" font-family="'Liberation Serif', 'Times New Roman', serif" font-weight="bold" fill="#000000" text-anchor="start">1000</text>
<text x="697.9" y="1551.6" font-size="59.3" font-family="'Liberation Serif', 'Times New Roman', serif" font-weight="bold" fill="#000000" text-anchor="start">800</text>
<text x="902.5" y="1551.6" font-size="59.3" font-family="'Liberation Serif', 'Times New Roman', serif" font-weight="bold" fill="#000000" text-anchor="start">600</text>
<text x="1107.1" y="1551.6" font-size="59.3" font-family="'Liberation Serif', 'Times New Roman', serif" font-weight="bold" fill="#000000" text-anchor="start">400</text>
<text x="1311.4" y="1551.6" font-size="59.3" font-family="'Liberation Serif', 'Times New Roman', serif" font-weight="bold" fill="#000000" text-anchor="start">200</text>
<text x="1546.2" y="1551.6" font-size="59.3" font-family="'Liberation Serif', 'Times New Roman', serif" font-weight="bold" fill="#000000" text-anchor="start">0</text>
<text x="1710.5" y="1551.6" font-size="59.3" font-family="'Liberation Serif', 'Times New Roman', serif" font-weight="bold" fill="#000000" text-anchor="start">-200</text>
</svg>
</body></html>
